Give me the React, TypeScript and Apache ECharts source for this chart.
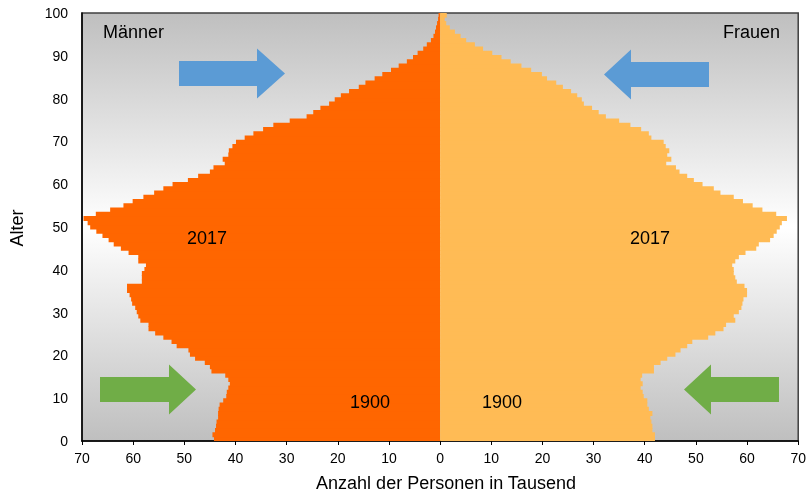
import React, { useEffect, useRef } from "react";
import * as echarts from "echarts";

// Ages 0..100 (category axis, bottom to top)
const ages: string[] = Array.from({ length: 101 }, (_, i) => String(i));

// Männer 2017, in Tausend (age 0 .. 100)
const men: number[] = [
  44.2, 44.5, 44.0, 43.8, 43.7, 43.4, 43.4, 43.3, 43.1, 42.4,
  41.8, 41.7, 41.4, 41.1, 41.4, 42.0, 44.7, 45.0, 46.0, 47.9,
  48.9, 49.2, 51.5, 52.5, 54.1, 55.7, 57.0, 57.0, 58.6, 59.0,
  59.3, 59.6, 60.2, 60.4, 60.7, 61.2, 61.2, 58.3, 58.3, 58.3,
  57.8, 57.5, 59.0, 59.0, 60.9, 62.4, 63.8, 64.8, 66.0, 67.2,
  68.4, 68.9, 69.7, 67.3, 64.5, 61.9, 60.1, 58.0, 55.9, 54.1,
  52.3, 49.3, 47.3, 45.0, 44.3, 42.1, 42.5, 41.4, 41.3, 40.6,
  39.9, 38.2, 36.5, 34.6, 32.6, 29.4, 26.1, 24.8, 23.4, 21.7,
  20.6, 19.4, 17.8, 15.9, 14.6, 12.8, 11.3, 9.6, 8.1, 6.5,
  5.3, 4.4, 3.3, 2.6, 1.8, 1.3, 1.0, 0.8, 0.6, 0.4,
  0.3,
];

// Frauen 2017, in Tausend (age 0 .. 100)
const women: number[] = [
  42.0, 42.0, 41.5, 41.5, 41.3, 41.1, 41.5, 40.8, 40.5, 40.5,
  39.8, 39.6, 39.2, 39.6, 39.2, 39.5, 41.8, 41.8, 43.1, 44.4,
  46.0, 47.0, 48.3, 49.3, 52.4, 53.8, 55.4, 55.9, 57.7, 57.4,
  58.4, 58.9, 59.1, 59.3, 60.0, 60.0, 59.5, 58.0, 57.7, 57.4,
  57.4, 57.1, 57.7, 58.4, 59.7, 61.8, 62.3, 64.5, 65.2, 65.8,
  66.4, 66.8, 67.8, 65.7, 63.0, 61.1, 59.2, 57.4, 54.8, 53.5,
  51.3, 49.6, 48.3, 46.8, 46.1, 44.2, 45.2, 44.4, 44.8, 44.1,
  43.7, 41.3, 40.8, 39.3, 37.2, 35.0, 32.4, 31.0, 29.7, 28.1,
  27.7, 26.8, 25.6, 24.0, 22.7, 20.9, 19.9, 17.8, 15.9, 13.8,
  12.0, 10.2, 8.4, 6.8, 5.1, 4.0, 2.9, 1.9, 1.2, 0.9,
  1.3,
];

const FONT = "'Liberation Sans', Arial, sans-serif";
const MEN_COLOR = "#FF6600";
const WOMEN_COLOR = "#FFBB55";

function arrowPoints(x0: number, x1: number, xt: number, yc: number, bh: number, hh: number) {
  return [
    [x0, yc - bh], [x1, yc - bh], [x1, yc - hh], [xt, yc],
    [x1, yc + hh], [x1, yc + bh], [x0, yc + bh],
  ];
}

export default function App() {
  const ref = useRef<HTMLDivElement>(null);
  useEffect(() => {
    if (!ref.current) return;
    const chart = echarts.init(ref.current, null, { renderer: "svg" });
    const label = (t: string, x: number, y: number, align: string) => ({
      type: "text",
      x,
      y,
      style: {
        text: t,
        fill: "#000",
        font: `18px ${FONT}`,
        textAlign: align,
        textVerticalAlign: "middle",
      },
      z: 10,
    });
    chart.setOption({
      animation: false,
      textStyle: { fontFamily: FONT },
      grid: {
        left: 82,
        right: 9,
        top: 13,
        bottom: 55,
        show: true,
        borderColor: "#404040",
        borderWidth: 1.5,
        backgroundColor: new echarts.graphic.LinearGradient(0, 0, 0, 1, [
          { offset: 0, color: "#bfbfbf" },
          { offset: 0.5, color: "#ffffff" },
          { offset: 1, color: "#bfbfbf" },
        ]),
      },
      xAxis: {
        type: "value",
        min: -70,
        max: 70,
        interval: 10,
        axisLine: { show: true, lineStyle: { color: "#000", width: 1.5 } },
        axisTick: { show: true, length: 4, lineStyle: { color: "#000" } },
        splitLine: { show: false },
        axisLabel: {
          color: "#000",
          fontSize: 14,
          fontFamily: FONT,
          margin: 10,
          formatter: (v: number) => String(Math.abs(v)),
        },
      },
      yAxis: [
        {
          type: "category",
          data: ages,
          show: false,
          boundaryGap: true,
        },
        {
          type: "value",
          min: 0,
          max: 100,
          interval: 10,
          position: "left",
          axisLine: { show: true, lineStyle: { color: "#000", width: 1.5 } },
          axisTick: { show: false },
          splitLine: { show: false },
          axisLabel: { color: "#000", fontSize: 14, fontFamily: FONT, margin: 14 },
        },
      ],
      series: [
        {
          name: "Männer",
          type: "bar",
          yAxisIndex: 0,
          data: men.map((v) => -v),
          barGap: "-100%",
          barWidth: 5,
          itemStyle: { color: MEN_COLOR },
          silent: true,
        },
        {
          name: "Frauen",
          type: "bar",
          yAxisIndex: 0,
          data: women,
          barGap: "-100%",
          barWidth: 5,
          itemStyle: { color: WOMEN_COLOR },
          silent: true,
        },
      ],
      graphic: [
        {
          type: "polygon",
          shape: { points: arrowPoints(179, 257, 285, 73.5, 12.5, 25) },
          style: { fill: "#5B9BD5" },
          z: 10,
        },
        {
          type: "polygon",
          shape: { points: arrowPoints(709, 631, 604, 74.5, 12.5, 25) },
          style: { fill: "#5B9BD5" },
          z: 10,
        },
        {
          type: "polygon",
          shape: { points: arrowPoints(100, 169, 196, 389.5, 12.5, 25) },
          style: { fill: "#70AD47" },
          z: 10,
        },
        {
          type: "polygon",
          shape: { points: arrowPoints(779, 711, 684, 389.5, 12.5, 25) },
          style: { fill: "#70AD47" },
          z: 10,
        },
        label("Männer", 103, 32, "left"),
        label("Frauen", 780, 32, "right"),
        label("2017", 207, 238, "center"),
        label("2017", 650, 238, "center"),
        label("1900", 370, 402, "center"),
        label("1900", 502, 402, "center"),
        label("Anzahl der Personen in Tausend", 446, 483, "center"),
        {
          type: "text",
          x: 17,
          y: 228,
          rotation: Math.PI / 2,
          style: {
            text: "Alter",
            fill: "#000",
            font: `18px ${FONT}`,
            textAlign: "center",
            textVerticalAlign: "middle",
          },
          z: 10,
        },
      ],
    });
    return () => chart.dispose();
  }, []);
  return (
    <div
      ref={ref}
      style={{ position: "fixed", left: 0, top: 0, width: 809, height: 496 }}
    />
  );
}
